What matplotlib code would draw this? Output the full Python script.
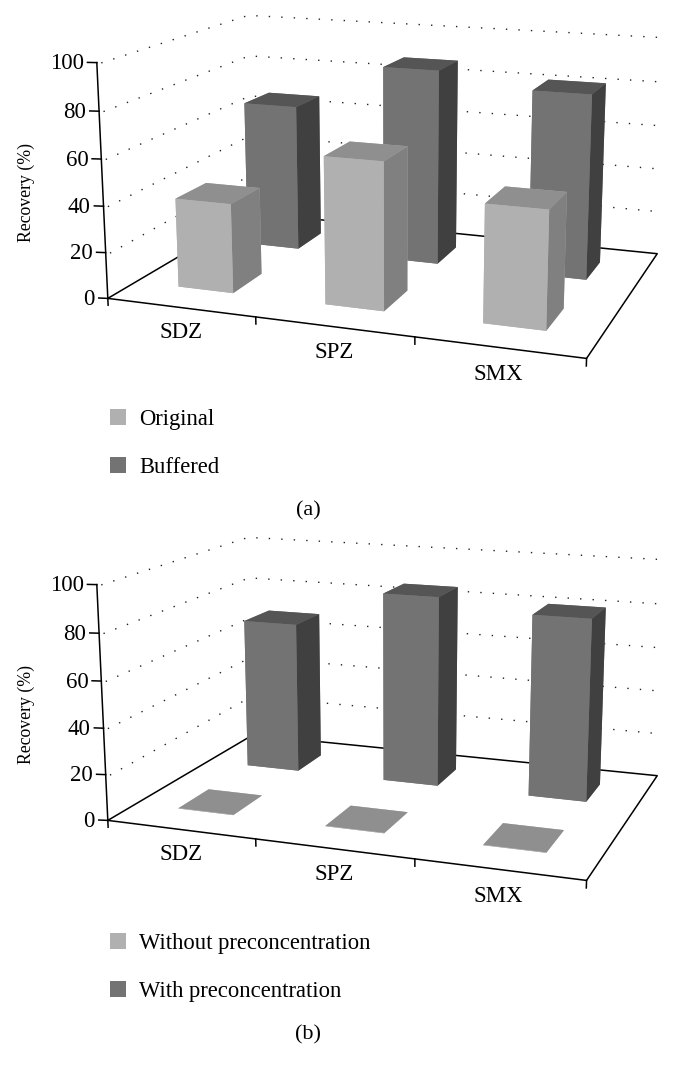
import matplotlib
matplotlib.use('Agg')
import matplotlib.pyplot as plt
from matplotlib.patches import Patch
from mpl_toolkits.mplot3d import proj3d

plt.rcParams['font.family'] = ['Liberation Serif', 'DejaVu Serif']

categories = ['SDZ', 'SPZ', 'SMX']
z_ticks = [0, 20, 40, 60, 80, 100]

original = [39, 63, 49.5]
buffered = [67, 88, 82]
without_pre = [0.2, 0.2, 0.2]
with_pre = [69, 86, 81]

light_faces = ['#b0b0b0', '#8f8f8f', '#b0b0b0', '#b0b0b0', '#b0b0b0', '#808080']
dark_faces = ['#737373', '#555555', '#737373', '#737373', '#737373', '#404040']

W, H = 679, 1077
BOX = (474, 330, 232)
AX_SIZE = 604


def draw_bars(ax, values, y0, depth, faces, order):
    xs = [i + 0.30 for i in range(len(values))]
    ax.bar3d(xs, [y0] * len(values), [0] * len(values),
             0.38, depth, values, color=faces * len(values),
             shade=False, edgecolor='none', zorder=order)


def label_at(ax, x, y, z, s, dx=0, dy=0, **kw):
    # 3d point -> figure pixels, so the label stays a plain figure text
    px, py, _ = proj3d.proj_transform(x, y, z, ax.get_proj())
    sx, sy = ax.transData.transform((px, py))
    fig.text((sx + dx) / W, (sy + dy) / H, s, **kw)


def draw_panel(offset, front, back, front_label, back_label, tag, legend_y, tag_y):
    # axes is placed in pixels, then the 3d box lands where the reference has it
    left = 85
    bottom = 474.5 + offset
    ax = fig.add_axes([left / W, 1 - bottom / H, AX_SIZE / W, AX_SIZE / H],
                      projection='3d', computed_zorder=False)
    ax.patch.set_alpha(0)
    ax.set_box_aspect(BOX)
    ax.set_proj_type('persp', focal_length=0.47)
    ax.view_init(elev=13.7, azim=-70)
    ax.set_xlim(0, 3, view_margin=0)
    ax.set_ylim(0, 1, view_margin=0)
    ax.set_zlim(0, 100, view_margin=0)
    ax.set_axis_off()

    # dotted grid on the two walls
    for z in z_ticks[1:]:
        ax.plot([0.03, 0, 3], [0, 1, 1], [z, z, z], color='#222222', lw=1.0,
                linestyle=(0, (1, 8)), zorder=1)

    # floor outline
    ax.plot([0, 3, 3, 0, 0], [0, 0, 1, 1, 0], [0, 0, 0, 0, 0], color='black', lw=1.1, zorder=1)

    # value axis
    ax.plot([0, 0], [0, 0], [-3, 100], color='black', lw=1.1, zorder=1)
    for z in z_ticks:
        ax.plot([-0.056, 0], [-0.006, 0], [z, z], color='black', lw=1.1, zorder=1)
        label_at(ax, 0, 0, z, str(z), dx=-13, dy=-1, ha='right', va='center', fontsize=16.5)

    # category axis
    for i in range(1, 4):
        ax.plot([i, i], [0, 0], [0, -3], color='black', lw=1.1, zorder=1)
    for i, name in enumerate(categories):
        label_at(ax, i + 0.5, 0, -11, name, ha='center', va='center', fontsize=16.5)

    draw_bars(ax, back, 0.655, 0.19, dark_faces, 2)
    draw_bars(ax, front, 0.17, 0.20, light_faces, 3)

    fig.text(26 / W, 1 - (192 + offset) / H, 'Recovery (%)', rotation=90,
             ha='center', va='center', fontsize=12.8)
    fig.text(308 / W, 1 - tag_y / H, tag, ha='center', va='center', fontsize=16)

    handles = [Patch(facecolor='#b0b0b0', edgecolor='none', label=front_label),
               Patch(facecolor='#737373', edgecolor='none', label=back_label)]
    fig.legend(handles=handles, loc='upper left', frameon=False,
               bbox_to_anchor=(110 / W, 1 - legend_y / H), fontsize=16.3,
               handlelength=0.71, handleheight=0.71, handletextpad=0.57,
               labelspacing=1.2, borderpad=0, borderaxespad=0)


fig = plt.figure(figsize=(W / 100, H / 100), dpi=100)
draw_panel(0, original, buffered, 'Original', 'Buffered', '(a)', 408.5, 511)
draw_panel(522, without_pre, with_pre, 'Without preconcentration', 'With preconcentration', '(b)', 932.5, 1035)
fig.savefig('out.png', dpi=100)
